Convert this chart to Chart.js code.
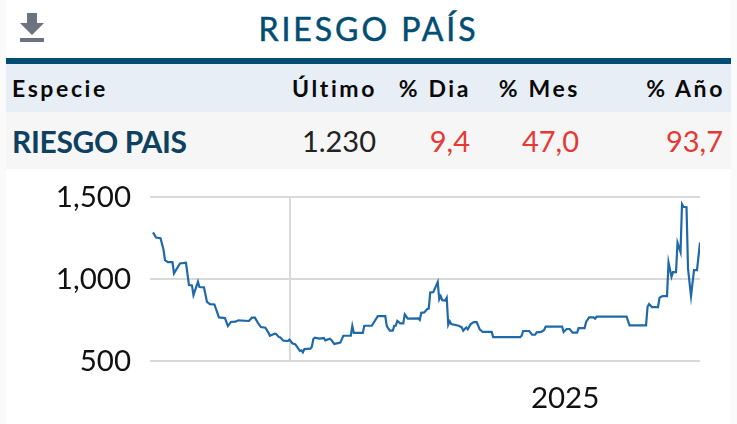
<!DOCTYPE html>
<html>
<head>
<meta charset="utf-8">
<title>Riesgo País</title>
<script src="https://cdn.jsdelivr.net/npm/chart.js@4"></script>
<style>
  html, body { margin: 0; padding: 0; background: #fafafa; }
  body { width: 737px; height: 424px; overflow: hidden; position: relative; font-family: Lato, sans-serif; }
  #card { position: absolute; left: 6px; top: 0; width: 725px; height: 424px; background: #fff; }
  #title { position: absolute; left: 0; right: 0; top: 9px; text-align: center; font-size: 32px; line-height: 40px; letter-spacing: 2.95px; color: #014d74; -webkit-text-stroke: 0.5px #014d74; }
  #icon { position: absolute; left: 14px; top: 13px; }
  #rule { position: absolute; left: 0; top: 58px; width: 725px; height: 6px; background: #014d74; }
  .row { position: absolute; left: 0; width: 725px; }
  #head { top: 64px; height: 48px; background: #e8eef5; }
  #vals { top: 112px; height: 57px; background: #f6f6f6; }
  .row span { position: absolute; white-space: nowrap; }
  #head span { top: 9px; font-size: 23px; line-height: 30px; font-weight: 700; letter-spacing: 2.6px; color: #0a0a0a; }
  #vals span { top: 11px; font-size: 29px; line-height: 36px; color: #222; }
  #vals span.neg { color: #e53935; }
  #vals span.name { color: #0e4060; font-size: 30px; font-weight: 700; letter-spacing: -0.35px; }
  #wrap { position: absolute; left: 0; top: 170px; width: 737px; height: 254px; }
</style>
</head>
<body>
<div id="card">
  <svg id="icon" width="24" height="30" viewBox="0 0 24 30"><path d="M7 0h10v10h7L12 22 0 10h7zM0 25h24v4H0z" fill="#6c7380"/></svg>
  <div id="title"></div>
  <div id="rule"></div>
  <div class="row" id="head"></div>
  <div class="row" id="vals"></div>
</div>
<div id="wrap"><canvas id="riesgoChart" width="737" height="254"></canvas></div>
<script>
const chartTitle = "RIESGO PAÍS";
const headers = ["Especie", "Último", "% Dia", "% Mes", "% Año"];
const rowValues = ["RIESGO PAIS", "1.230", "9,4", "47,0", "93,7"];

// days since the start of the window, and the index value on that day
const days = [
  2, 4, 7, 9, 10, 12, 15, 16, 20, 24, 26, 28, 29, 32, 33, 36, 38, 40, 43, 46,
  50, 52, 54, 57, 59, 66, 68, 70, 72, 74, 77, 79, 80, 83, 84, 86, 87, 89, 92, 93,
  95, 97, 100, 101, 102, 103, 107, 108, 109, 110, 113, 116, 117, 120, 121, 123, 127, 129, 134, 135,
  136, 142, 143, 148, 152, 157, 158, 160, 162, 163, 164, 165, 167, 169, 170, 172, 179, 180, 181, 183,
  185, 186, 187, 189, 192, 193, 194, 195, 197, 198, 199, 200, 201, 206, 208, 209, 211, 212, 214, 216,
  218, 220, 222, 228, 229, 247, 248, 249, 253, 255, 257, 258, 261, 263, 264, 275, 276, 278, 280, 282,
  285, 286, 290, 291, 293, 296, 297, 298, 318, 320, 331, 332, 333, 335, 339, 340, 342, 345, 346, 348,
  349, 351, 352, 354, 355, 356, 358, 359, 361, 363, 365, 367
];
const values = [
  1284, 1253, 1249, 1180, 1115, 1103, 1103, 1034, 1095, 1099, 963, 961, 902, 983, 951, 949, 861, 847, 845, 766,
  762, 713, 738, 740, 748, 744, 764, 764, 733, 707, 703, 673, 654, 666, 666, 646, 644, 624, 622, 630,
  608, 601, 561, 565, 553, 573, 575, 587, 634, 642, 636, 640, 626, 636, 628, 604, 612, 654, 654, 713,
  671, 671, 715, 715, 774, 774, 713, 685, 685, 715, 715, 744, 729, 729, 784, 758, 760, 750, 794, 796,
  817, 819, 918, 920, 981, 876, 896, 871, 869, 886, 721, 742, 725, 715, 705, 685, 705, 693, 725, 737,
  737, 693, 677, 677, 646, 646, 654, 683, 683, 660, 660, 675, 677, 689, 709, 709, 677, 695, 695, 673,
  673, 701, 701, 738, 766, 766, 758, 770, 770, 717, 717, 831, 847, 829, 829, 886, 896, 896, 1101, 1014,
  1042, 1042, 1221, 1164, 1456, 1440, 1438, 1064, 896, 1054, 1054, 1223
];
const yTicks = [500, 1000, 1500];
const markerDay = 93.4;
const yearDay = 277;
const yearLabel = "2025";

// table, right edges are relative to the card
const headRight = [null, 371, 465, 574, 719];
const valRight = [null, 370, 464, 573, 717];

document.getElementById("title").textContent = chartTitle;

function fillRow(id, texts, rights) {
  const row = document.getElementById(id);
  texts.forEach(function (t, i) {
    const s = document.createElement("span");
    s.textContent = t;
    if (i === 0) {
      s.style.left = "6px";
      s.className = "name";
    } else {
      s.style.right = 725 - rights[i] + "px";
      if (i > 1) s.className = "neg";
    }
    row.appendChild(s);
  });
}
fillRow("head", headers, headRight);
fillRow("vals", rowValues, valRight);

const gridColor = "#d9d9d9";
const tickFont = { family: "Lato", size: 29.5 };

new Chart(document.getElementById("riesgoChart").getContext("2d"), {
  type: "line",
  data: {
    labels: days,
    datasets: [
      {
        label: "Riesgo País",
        data: days.map(function (d, i) {
          return { x: d, y: values[i] };
        }),
        borderColor: "#1f69a8",
        borderWidth: 2.2,
        pointRadius: 0,
        tension: 0,
      },
    ],
  },
  options: {
    responsive: false,
    animation: false,
    layout: { padding: { top: 27, right: 37, left: 0, bottom: 0 } },
    plugins: { legend: { display: false }, tooltip: { enabled: false } },
    scales: {
      x: {
        type: "linear",
        min: 0,
        max: 367,
        afterBuildTicks: function (axis) {
          axis.ticks = [{ value: markerDay }, { value: yearDay }];
        },
        afterFit: function (axis) {
          axis.height = 63;
        },
        border: { display: false },
        grid: {
          drawTicks: false,
          lineWidth: 2,
          color: function (c) {
            return c.tick && c.tick.value === markerDay ? gridColor : "rgba(0,0,0,0)";
          },
        },
        ticks: {
          color: "#111",
          font: tickFont,
          padding: 20,
          maxRotation: 0,
          autoSkip: false,
          callback: function (value) {
            return value === yearDay ? yearLabel : "";
          },
        },
      },
      y: {
        min: 500,
        max: 1500,
        afterBuildTicks: function (axis) {
          axis.ticks = yTicks.map(function (v) {
            return { value: v };
          });
        },
        afterFit: function (axis) {
          axis.width = 150;
          // big tick padding otherwise pushes the plot down
          axis.paddingTop = 0;
          axis.paddingBottom = 0;
        },
        border: { display: false },
        grid: { drawTicks: false, color: gridColor, lineWidth: 2 },
        ticks: {
          color: "#111",
          font: tickFont,
          padding: 19,
          callback: function (value) {
            return value.toLocaleString("en-US");
          },
        },
      },
    },
  },
});
</script>
</body>
</html>
